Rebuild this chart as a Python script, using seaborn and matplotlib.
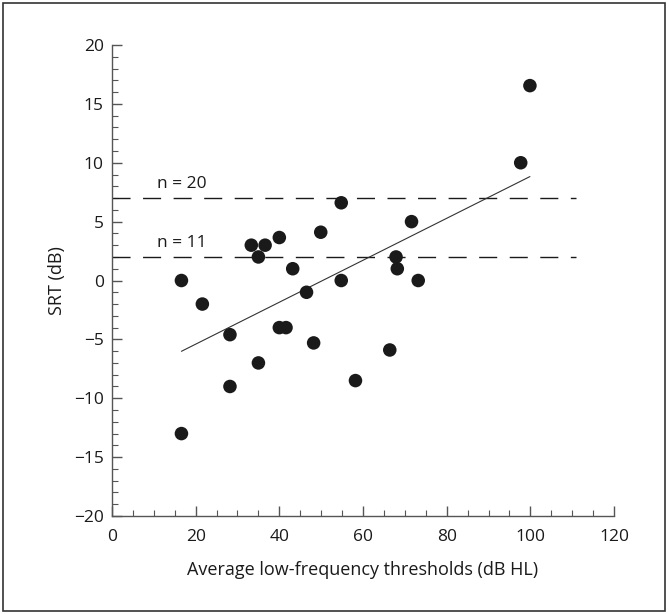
import matplotlib
matplotlib.use("Agg")
import matplotlib.pyplot as plt
from matplotlib.ticker import MultipleLocator
from matplotlib.patches import Rectangle
import seaborn as sns
import pandas as pd

# Data
threshold = [16.6, 16.6, 21.6, 28.2, 28.2, 33.3, 35.0, 36.6, 35.0, 40.0, 40.0, 41.6, 43.2,
             46.5, 48.2, 49.9, 54.8, 54.8, 58.2, 66.4, 67.9, 68.2, 71.6, 73.2, 97.7, 99.9]
srt = [0.0, -13.0, -2.0, -4.6, -9.0, 3.0, 2.0, 3.0, -7.0, 3.65, -4.0, -4.0, 1.0,
       -1.0, -5.3, 4.1, 6.6, 0.0, -8.5, -5.9, 2.0, 1.0, 5.0, 0.0, 10.0, 16.55]
ref_levels = [7, 2]
ref_labels = ["n = 20", "n = 11"]

df = pd.DataFrame({"x": threshold, "y": srt})

sns.set_theme(style="white")
plt.rcParams["font.family"] = ["Open Sans", "DejaVu Sans"]

fig = plt.figure(figsize=(6.69, 6.14), dpi=100)
ax = fig.add_axes([0.1674, 0.1596, 0.7504, 0.7671])

axcol = "#555555"
ink = "#1a1a1a"

for lvl, lab in zip(ref_levels, ref_labels):
    ax.plot([0, 111], [lvl, lvl], color=ink, lw=1.0, linestyle=(0, (13, 9)), zorder=1)
    ax.text(10.8, lvl + 0.5, lab, fontsize=12.5, color=ink, ha="left", va="bottom")

sns.regplot(data=df, x="x", y="y", ax=ax, ci=None, truncate=True,
            scatter_kws=dict(s=95, color=ink, edgecolor="none", alpha=1, zorder=3),
            line_kws=dict(color="#333333", lw=0.8, zorder=2))

ax.set_xlim(0, 120)
ax.set_ylim(-20, 20)
ax.xaxis.set_major_locator(MultipleLocator(20))
ax.xaxis.set_minor_locator(MultipleLocator(5))
ax.yaxis.set_major_locator(MultipleLocator(5))
ax.yaxis.set_minor_locator(MultipleLocator(1))
ax.set_yticks([20, 15, 10, 5, 0, -5, -10, -15, -20])
ax.set_yticklabels(["20", "15", "10", "5", "0", "\u22125", "\u221210", "\u221215", "\u221220"])

for s in ["top", "right"]:
    ax.spines[s].set_visible(False)
for s in ["left", "bottom"]:
    ax.spines[s].set_color(axcol)
    ax.spines[s].set_linewidth(1.0)

ax.tick_params(which="major", direction="in", length=7, width=1.0, color=axcol,
               labelsize=12.5, labelcolor=ink, left=True, bottom=True)
ax.tick_params(axis="x", which="major", pad=9)
ax.tick_params(axis="y", which="major", pad=6)
ax.tick_params(which="minor", direction="in", length=4, width=0.8, color=axcol,
               left=True, bottom=True)

ax.set_xlabel("Average low-frequency thresholds (dB HL)", fontsize=13, color=ink, labelpad=12)
ax.set_ylabel("SRT (dB)", fontsize=13, color=ink, labelpad=5.5)

fig.patches.append(Rectangle((3 / 669, 3 / 614), 662 / 669, 608 / 614,
                             transform=fig.transFigure, fill=False,
                             edgecolor="#333333", lw=1.2))

fig.savefig("out.png", dpi=100)
